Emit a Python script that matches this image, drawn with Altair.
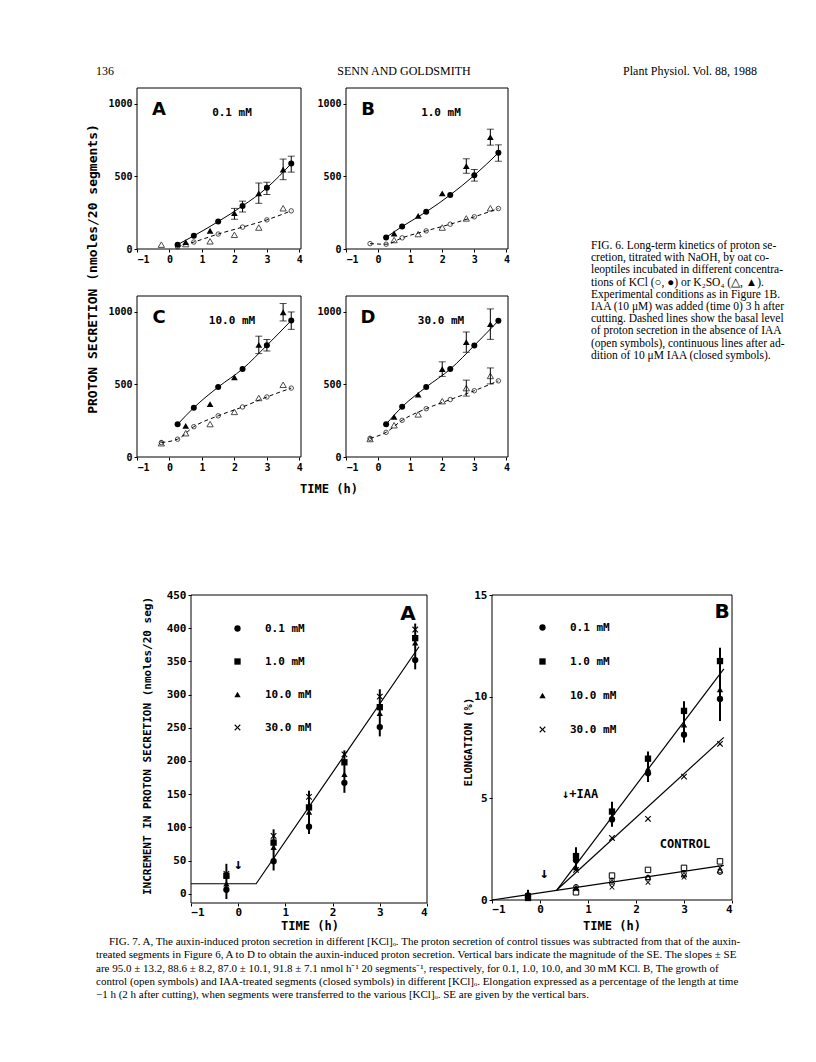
import altair as alt
import pandas as pd

MONO = "DejaVu Sans Mono"
SERIF = "Liberation Serif"
HEAVY = "DejaVu Sans"

# ---------------- Figure 6 data ----------------
t_kcl = [0.25, 0.75, 1.5, 2.25, 3.0, 3.75]
t_kcl7 = [-0.25, 0.25, 0.75, 1.5, 2.25, 3.0, 3.75]
t_k2 = [-0.25, 0.5, 1.25, 2.0, 2.75, 3.5]
t_k2_5 = [0.5, 1.25, 2.0, 2.75, 3.5]

# A: 0.1 mM
a_kcl_iaa = [30, 91, 189, 297, 422, 589]
a_k2_iaa = [48, 126, 247, 384, 548]
a_kcl_ctl = [15, 48, 103, 151, 201, 263]
a_k2_ctl = [30, 34, 53, 98, 148, 281]
a_err_t = [2.25, 3.0, 3.75, 2.0, 2.75, 3.5]
a_err_lo = [255, 375, 530, 205, 315, 478]
a_err_hi = [330, 460, 640, 280, 455, 620]

# B: 1.0 mM
b_kcl_iaa = [80, 155, 256, 373, 508, 663]
b_k2_iaa = [107, 229, 383, 572, 771]
b_kcl_ctl = [37, 33, 77, 125, 171, 222, 279]
b_k2_ctl = [62, 103, 148, 211, 281]
b_err_t = [3.0, 3.75, 2.75, 3.5]
b_err_lo = [468, 605, 522, 716]
b_err_hi = [548, 718, 622, 826]

# C: 10.0 mM
c_kcl_iaa = [225, 340, 482, 607, 770, 941]
c_k2_iaa = [214, 364, 550, 773, 998]
c_kcl_ctl = [100, 123, 209, 284, 345, 414, 475]
c_k2_ctl = [95, 164, 227, 311, 407, 498]
c_err_t = [3.0, 3.75, 2.75, 3.5]
c_err_lo = [730, 880, 713, 938]
c_err_hi = [810, 1000, 833, 1058]

# D: 30.0 mM
d_kcl_iaa = [226, 346, 482, 606, 769, 939]
d_k2_iaa = [276, 430, 606, 792, 916]
d_kcl_ctl = [129, 170, 253, 333, 396, 457, 525]
d_k2_ctl = [124, 219, 294, 385, 475, 559]
d_err_t = [2.0, 2.75, 3.5, 2.75, 3.5]
d_err_lo = [556, 722, 811, 420, 504]
d_err_hi = [656, 862, 1021, 530, 614]

# ---------------- Figure 7 data ----------------
conc_labels = ["0.1 mM", "1.0 mM", "10.0 mM", "30.0 mM"]
f7_t = [-0.25, 0.75, 1.5, 2.25, 3.0, 3.75]

f7a_01 = [6, 49, 101, 167, 251, 352]
f7a_10 = [27, 77, 130, 198, 281, 385]
f7a_100 = [15, 70, 123, 180, 272, 378]
f7a_300 = [30, 87, 146, 210, 297, 398]
f7a_err_lo = [-8, 35, 90, 152, 237, 338]
f7a_err_hi = [45, 97, 155, 216, 308, 407]
f7a_fit_t = [-1.0, 0.38, 3.83]
f7a_fit_v = [15, 15, 372]

f7b_01 = [0.2, 1.95, 3.96, 6.23, 8.13, 9.89]
f7b_10 = [0.1, 2.16, 4.35, 6.95, 9.3, 11.75]
f7b_100 = [0.35, 1.6, 4.1, 6.45, 8.62, 10.35]
f7b_300 = [0.2, 1.48, 3.05, 3.99, 6.07, 7.68]
f7b_err_lo = [0.0, 1.45, 3.6, 5.8, 7.75, 8.8]
f7b_err_hi = [0.5, 2.6, 4.83, 7.3, 9.77, 12.4]
ctl_t = [0.75, 1.5, 2.25, 3.0, 3.75]
ctl_square = [0.38, 1.2, 1.48, 1.58, 1.9]
ctl_circle = [0.65, 0.96, 1.1, 1.32, 1.37]
ctl_triangle = [0.6, 0.9, 1.12, 1.25, 1.45]
ctl_cross = [0.55, 0.63, 0.87, 1.12, 1.58]
fit_ids = ["IAA", "IAA", "30 mM", "30 mM", "control", "control"]
fit_t = [0.35, 3.83, 0.35, 3.83, -1.0, 3.83]
fit_v = [0.49, 11.37, 0.49, 8.0, 0.0, 1.7]

X_PATH = ("M-1,-0.75L-0.75,-1L0,-0.25L0.75,-1L1,-0.75L0.25,0L1,0.75L0.75,1"
          "L0,0.25L-0.75,1L-1,0.75L-0.25,0Z")

# ---------------- captions ----------------
header_left = "136"
header_mid = "SENN AND GOLDSMITH"
header_right = "Plant Physiol. Vol. 88, 1988"

cap6 = [
    "FIG. 6. Long-term kinetics of proton se-",
    "cretion, titrated with NaOH, by oat co-",
    "leoptiles incubated in different concentra-",
    "tions of KCl (○, ●) or K₂SO₄ (△, ▲).",
    "Experimental conditions as in Figure 1B.",
    "IAA (10 μM) was added (time 0) 3 h after",
    "cutting. Dashed lines show the basal level",
    "of proton secretion in the absence of IAA",
    "(open symbols), continuous lines after ad-",
    "dition of 10 μM IAA (closed symbols).",
]
cap7_first = ("FIG. 7. A, The auxin-induced proton secretion in different [KCl]ₒ. "
              "The proton secretion of control tissues was subtracted from that of the auxin-")
cap7_rest = [
    "treated segments in Figure 6, A to D to obtain the auxin-induced proton secretion. "
    "Vertical bars indicate the magnitude of the SE. The slopes ± SE",
    "are 95.0 ± 13.2, 88.6 ± 8.2, 87.0 ± 10.1, 91.8 ± 7.1 nmol h⁻¹ 20 segments⁻¹, "
    "respectively, for 0.1, 1.0, 10.0, and 30 mM KCl. B, The growth of",
    "control (open symbols) and IAA-treated segments (closed symbols) in different [KCl]ₒ. "
    "Elongation expressed as a percentage of the length at time",
    "−1 h (2 h after cutting), when segments were transferred to the various [KCl]ₒ. "
    "SE are given by the vertical bars.",
]

one = pd.DataFrame({"k": [0]})


def txt(s, x, y, size, font=MONO, weight="bold", align="center",
        baseline="middle", angle=None, line_height=None):
    kw = dict(font=font, fontSize=size, fontWeight=weight, align=align,
              baseline=baseline, color="black")
    if angle is not None:
        kw["angle"] = angle
    if line_height is not None:
        kw["lineHeight"] = line_height
    return alt.Chart(one).mark_text(**kw).encode(
        x=alt.value(x), y=alt.value(y), text=alt.value(s))


def frame(w, h):
    return alt.Chart(one).mark_rect(filled=False, color="black", strokeWidth=1).encode(
        x=alt.value(0), x2=alt.value(w), y=alt.value(0), y2=alt.value(h))


def spacer(w, h):
    return alt.Chart(one).mark_point(opacity=0, size=1).encode(
        x=alt.value(w / 2), y=alt.value(h / 2)).properties(width=w, height=h)


# ---------------- Figure 6 panels ----------------
y6 = alt.Scale(domain=[0, 1110], nice=False, zero=False)


def ax_lin(vals, size, tick=3, pad=2):
    return alt.Axis(values=vals, format="d", title=None, grid=False, domain=False,
                    tickSize=tick, tickColor="black", labelColor="black",
                    labelFont=MONO, labelFontSize=size, labelFontWeight="bold",
                    labelPadding=pad)


ax6x = ax_lin([-1, 0, 1, 2, 3, 4], 10)
ax6y = ax_lin([0, 500, 1000], 10)


def fig6(true_w, slot_w, letter, conc, kcl_iaa, k2_t_iaa, k2_iaa, kcl_t_ctl, kcl_ctl,
         k2_t_ctl, k2_ctl, e_t, e_lo, e_hi, extras):
    x6 = alt.Scale(domain=[-1, 4.05], range=[0, true_w], nice=False, zero=False)
    X = alt.X("t:Q", scale=x6, axis=ax6x)
    Y = alt.Y("v:Q", scale=y6, axis=ax6y)
    d_ci = pd.DataFrame({"t": t_kcl, "v": kcl_iaa})
    d_ti = pd.DataFrame({"t": k2_t_iaa, "v": k2_iaa})
    d_cc = pd.DataFrame({"t": kcl_t_ctl, "v": kcl_ctl})
    d_tc = pd.DataFrame({"t": k2_t_ctl, "v": k2_ctl})
    d_e = pd.DataFrame({"t": e_t, "lo": e_lo, "hi": e_hi})
    Ylo = alt.Y("lo:Q", scale=y6, axis=ax6y)
    Yhi = alt.Y("hi:Q", scale=y6, axis=ax6y)
    layers = [
        frame(true_w, 161),
        alt.Chart(d_ci).mark_line(color="black", strokeWidth=1,
                                  interpolate="monotone").encode(X, Y),
        alt.Chart(d_cc).mark_line(color="black", strokeWidth=1, strokeDash=[4, 3],
                                  interpolate="monotone").encode(X, Y),
        alt.Chart(d_e).mark_rule(color="black", strokeWidth=1).encode(X, Ylo, y2="hi:Q"),
        alt.Chart(d_e).mark_tick(orient="horizontal", size=7, thickness=1,
                                 color="black").encode(X, Ylo),
        alt.Chart(d_e).mark_tick(orient="horizontal", size=7, thickness=1,
                                 color="black").encode(X, Yhi),
        alt.Chart(d_tc).mark_point(shape="triangle-up", filled=False, size=40,
                                   color="black", strokeWidth=1).encode(X, Y),
        alt.Chart(d_cc).mark_point(shape="circle", filled=False, size=20,
                                   color="black", strokeWidth=1).encode(X, Y),
        alt.Chart(d_ti).mark_point(shape="triangle-up", filled=True, size=45,
                                   color="black", opacity=1).encode(X, Y),
        alt.Chart(d_ci).mark_point(shape="circle", filled=True, size=36,
                                   color="black", opacity=1).encode(X, Y),
        txt(letter, 22, 22, 18, font=HEAVY),
        txt(conc, 95, 25, 11),
    ] + extras
    return alt.layer(*layers).properties(width=slot_w, height=161)


C0, C1, C2, C3, C4 = 128, 54, 155, 146, 240

panelA = fig6(164, C1, "A", "0.1 mM", a_kcl_iaa, t_k2_5, a_k2_iaa, t_kcl, a_kcl_ctl,
              t_k2, a_k2_ctl, a_err_t, a_err_lo, a_err_hi,
              [txt(header_left, -41, -13, 12, font=SERIF, weight="normal", align="left",
                   baseline="alphabetic"),
               txt(header_mid, 267, -13, 12, font=SERIF, weight="normal",
                   baseline="alphabetic"),
               txt(header_right, 620, -13, 12, font=SERIF, weight="normal", align="right",
                   baseline="alphabetic"),
               txt("PROTON SECRETION (nmoles/20 segments)", -44, 181, 13, angle=270)])
panelB = fig6(162, C3, "B", "1.0 mM", b_kcl_iaa, t_k2_5, b_k2_iaa, t_kcl7, b_kcl_ctl,
              t_k2_5, b_k2_ctl, b_err_t, b_err_lo, b_err_hi,
              [txt(cap6, 245, 161, 11.5, font=SERIF, weight="normal", align="left",
                   baseline="alphabetic", line_height=12.2)])
panelC = fig6(164, C1, "C", "10.0 mM", c_kcl_iaa, t_k2_5, c_k2_iaa, t_kcl7, c_kcl_ctl,
              t_k2, c_k2_ctl, c_err_t, c_err_lo, c_err_hi,
              [txt("TIME (h)", 192, 193, 12)])
panelD = fig6(162, C3, "D", "30.0 mM", d_kcl_iaa, t_k2_5, d_k2_iaa, t_kcl7, d_kcl_ctl,
              t_k2, d_k2_ctl, d_err_t, d_err_lo, d_err_hi, [])

# ---------------- Figure 7 panels ----------------
y7a = alt.Scale(domain=[-14, 450], nice=False, zero=False)
y7b = alt.Scale(domain=[0, 15], nice=False, zero=False)
ax7x = ax_lin([-1, 0, 1, 2, 3, 4], 11, tick=3, pad=0)
ax7ya = ax_lin(list(range(0, 451, 50)), 11, tick=3, pad=2)
ax7yb = ax_lin([0, 5, 10, 15], 11, tick=3, pad=2)

shape_scale = alt.Scale(domain=conc_labels,
                        range=["circle", "square", "triangle-up", X_PATH])


def legend7(lx, ly, row_pad):
    return alt.Legend(orient="none", legendX=lx, legendY=ly, title=None,
                      labelFont=MONO, labelFontSize=11, labelFontWeight="bold",
                      labelColor="black", symbolSize=40, symbolFillColor="black",
                      symbolStrokeColor="black", symbolStrokeWidth=0.5,
                      rowPadding=row_pad, labelOffset=22, padding=0)


def long_df(vals_list):
    rows = []
    for c, vals in zip(conc_labels, vals_list):
        for t, v in zip(f7_t, vals):
            rows.append({"t": t, "v": v, "conc": c})
    return pd.DataFrame(rows)


# Fig 7A (drawn 236 px wide inside a 155 px grid slot)
X7a = alt.X("t:Q", scale=alt.Scale(domain=[-1, 4], range=[0, 236], nice=False,
                                    zero=False), axis=ax7x)
Y7a = alt.Y("v:Q", scale=y7a, axis=ax7ya)
d7a = long_df([f7a_01, f7a_10, f7a_100, f7a_300])
d7a_e = pd.DataFrame({"t": f7_t, "lo": f7a_err_lo, "hi": f7a_err_hi})
d7a_fit = pd.DataFrame({"t": f7a_fit_t, "v": f7a_fit_v})
panel7A = alt.layer(
    frame(236, 308),
    alt.Chart(d7a_fit).mark_line(color="black", strokeWidth=1.2).encode(X7a, Y7a),
    alt.Chart(d7a_e).mark_rule(color="black", strokeWidth=2).encode(
        X7a, alt.Y("lo:Q", scale=y7a, axis=ax7ya), y2="hi:Q"),
    alt.Chart(d7a).mark_point(filled=True, color="black", opacity=1, size=40).encode(
        X7a, Y7a, shape=alt.Shape("conc:N", scale=shape_scale,
                                  legend=legend7(41, 28, 21))),
    txt("A", 217, 19, 20, font=HEAVY),
    txt("↓", 47, 269, 15),
    txt("INCREMENT IN PROTON SECRETION (nmoles/20 seg)", -43, 151, 11, angle=270),
    txt("TIME (h)", 119, 331, 12),
    txt(cap7_first, -82, 350, 11, font=SERIF, weight="normal", align="left",
        baseline="alphabetic"),
    txt(cap7_rest, -95, 363.25, 11, font=SERIF, weight="normal", align="left",
        baseline="alphabetic", line_height=13.25),
).properties(width=C2, height=308)

# Fig 7B
X7b = alt.X("t:Q", scale=alt.Scale(domain=[-1, 4], range=[0, 240], nice=False,
                                    zero=False), axis=ax7x)
Y7b = alt.Y("v:Q", scale=y7b, axis=ax7yb)
d7b = long_df([f7b_01, f7b_10, f7b_100, f7b_300])
d7b_e = pd.DataFrame({"t": f7_t, "lo": f7b_err_lo, "hi": f7b_err_hi})
d7b_fit = pd.DataFrame({"id": fit_ids, "t": fit_t, "v": fit_v})


def ctl(vals, shape, filled, size):
    return alt.Chart(pd.DataFrame({"t": ctl_t, "v": vals})).mark_point(
        shape=shape, filled=filled, size=size, color="black", strokeWidth=1,
        opacity=1).encode(X7b, Y7b)


panel7B = alt.layer(
    frame(240, 305),
    alt.Chart(d7b_fit).mark_line(color="black", strokeWidth=1.2).encode(
        X7b, Y7b, detail="id:N"),
    alt.Chart(d7b_e).mark_rule(color="black", strokeWidth=2).encode(
        X7b, alt.Y("lo:Q", scale=y7b, axis=ax7yb), y2="hi:Q"),
    ctl(ctl_square, "square", False, 30),
    ctl(ctl_circle, "circle", False, 22),
    ctl(ctl_triangle, "triangle-up", False, 30),
    ctl(ctl_cross, X_PATH, True, 28),
    alt.Chart(d7b).mark_point(filled=True, color="black", opacity=1, size=40).encode(
        X7b, Y7b, shape=alt.Shape("conc:N", scale=shape_scale,
                                  legend=legend7(45, 27, 22))),
    txt("B", 230, 17, 20, font=HEAVY),
    txt("↓", 52, 278, 15),
    txt("↓+IAA", 70, 199, 12, align="left"),
    txt("CONTROL", 193, 249, 12),
    txt("ELONGATION (%)", -23, 147, 10.5, angle=270),
    txt("TIME (h)", 120, 331, 12),
).properties(width=C4, height=305)

# ---------------- page grid (5 equal-width columns in every row) ----------------
cols = [C0, C1, C2, C3, C4]


def spacer_row(h):
    return [spacer(w, h) for w in cols]


items = (
    spacer_row(79)
    + [spacer(C0, 161), panelA, spacer(C2, 161), panelB, spacer(C4, 161)]
    + spacer_row(47)
    + [spacer(C0, 161), panelC, spacer(C2, 161), panelD, spacer(C4, 161)]
    + spacer_row(138)
    + [spacer(C0, 308), spacer(C1, 308), panel7A, spacer(C3, 308), panel7B]
)

chart = alt.concat(*items, columns=5, spacing=0, bounds="flush").resolve_scale(
    shape="independent"
).properties(padding=0, background="white").configure_view(stroke="transparent")

chart.save("out.html", embed_options={"renderer": "svg", "actions": False})
